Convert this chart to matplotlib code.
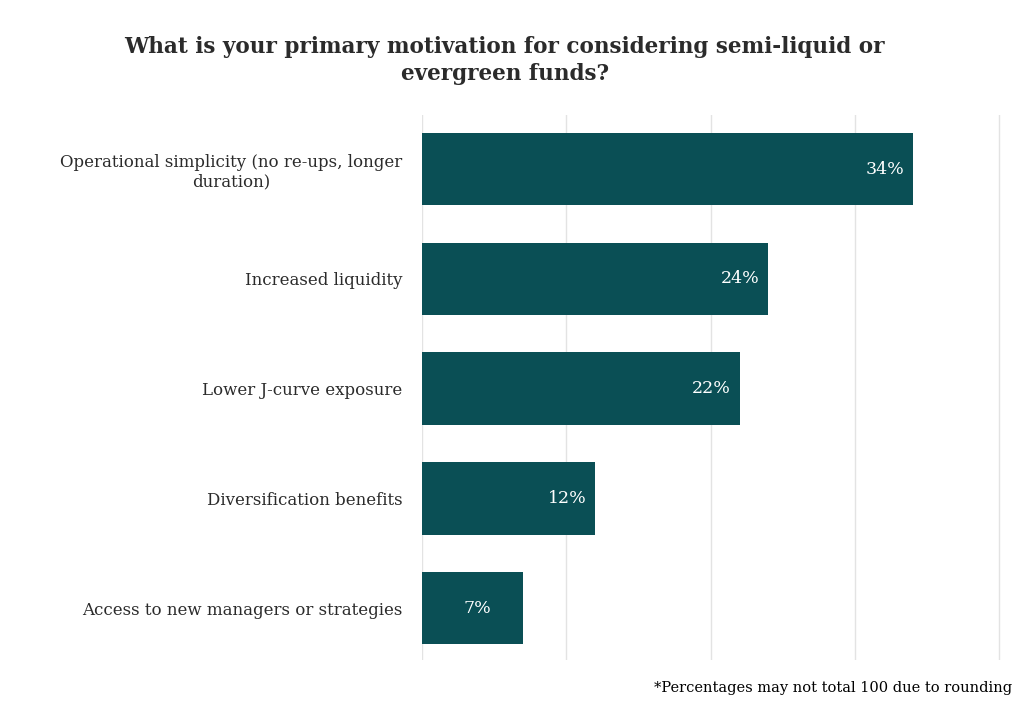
import matplotlib
matplotlib.use("Agg")
import matplotlib.pyplot as plt

#------------- data -------------#
categories = [
    "Operational simplicity (no re-ups, longer\nduration)",
    "Increased liquidity",
    "Lower J-curve exposure",
    "Diversification benefits",
    "Access to new managers or strategies",
]
values = [34, 24, 22, 12, 7]
labels = ["34%", "24%", "22%", "12%", "7%"]

BAR_COLOR = "#0a4f55"
TEXT_COLOR = "#2b2b2b"
GRID_COLOR = "#e3e3e3"

plt.rcParams['font.family'] = ['DejaVu Serif']

XMAX = 40.3
fig = plt.figure(figsize=(10.24, 7.08), dpi=100)
ax = fig.add_axes([0.412, 0.068, 0.564 * XMAX / 40, 0.770])

pos = list(range(len(categories)))
ax.barh(pos, values, height=0.66, color=BAR_COLOR, zorder=3)

for p, v, lab in zip(pos, values, labels):
    # small bars get a centred label, others sit near the bar end
    x = v - 1.95 if v > 10 else v * 0.55
    ax.text(x, p, lab, ha="center", va="center", color="white",
            fontsize=12.5, zorder=4)

ax.set_xlim(0, XMAX)
ax.set_ylim(len(categories) - 0.53, -0.495)
ax.set_xticks([0, 10, 20, 30, 40])
ax.set_xticklabels([])
ax.xaxis.grid(True, color=GRID_COLOR, linewidth=1, zorder=0)
ax.tick_params(axis="both", length=0)
ax.set_yticks(pos)
ax.set_yticklabels(categories, fontsize=12, color=TEXT_COLOR, ha="right",
                   multialignment="center")
ax.tick_params(axis="y", pad=14)
for s in ax.spines.values():
    s.set_visible(False)

fig.text(0.493, 0.914, "What is your primary motivation for considering semi-liquid or\nevergreen funds?",
         ha="center", va="center", fontsize=15.5, fontweight="bold",
         color=TEXT_COLOR, linespacing=1.3)
fig.text(0.988, 0.028, "*Percentages may not total 100 due to rounding",
         ha="right", va="center", fontsize=10.5, color="black")

fig.savefig("out.png", dpi=100)
